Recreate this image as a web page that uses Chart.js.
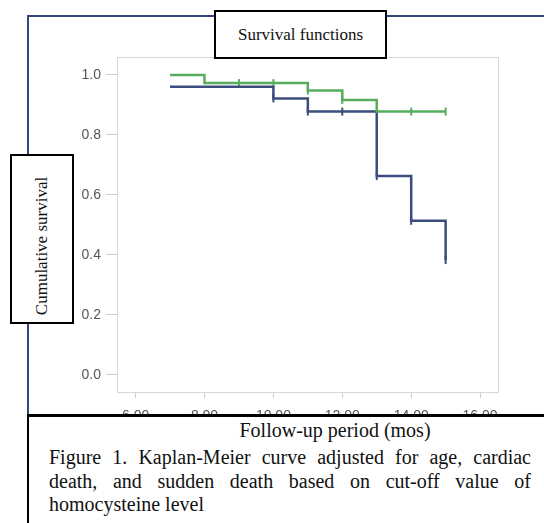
<!DOCTYPE html>
<html>
<head>
<meta charset="utf-8">
<script src="https://cdn.jsdelivr.net/npm/chart.js@4/dist/chart.umd.min.js"></script>
<style>
    html, body { margin: 0; padding: 0; background: #fff; }
    body { width: 544px; height: 523px; position: relative; overflow: hidden; }
    #frame {
        position: absolute; left: 27px; top: 15px; width: 600px; height: 600px;
        border: 2px solid #33457a; box-sizing: border-box;
    }
    #chart-wrap { position: absolute; left: 0; top: 0; width: 544px; height: 523px; }
    .box {
        position: absolute; background: #fff; border: 2px solid #000; box-sizing: border-box;
        font-family: "Liberation Serif", "DejaVu Serif", serif; color: #111;
    }
    #title-box { left: 214px; top: 10px; width: 173px; height: 49px; font-size: 17px;
        display: flex; align-items: center; justify-content: center; }
    #ylabel-box { left: 10px; top: 154px; width: 64px; height: 170px; }
    #ylabel-box span {
        position: absolute; left: 50%; top: 54%; white-space: nowrap; font-size: 17px;
        transform: translate(-50%, -50%) rotate(-90deg);
    }
    #caption-box {
        left: 27px; top: 414px; width: 600px; height: 200px;
        border: none; border-top: 3px solid #000; border-left: 2px solid #000;
    }
    #caption-axis { position: absolute; left: 0; top: 2px; width: 612px; text-align: center; font-size: 20px; }
    #caption-text {
        position: absolute; left: 20px; top: 29px; width: 482px; font-size: 20px;
        line-height: 23.5px;
    }
    #caption-text div { text-align: justify; text-align-last: justify; white-space: nowrap; }
    #caption-text div:last-child { text-align-last: left; }
</style>
</head>
<body>
<div id="frame"></div>
<div id="chart-wrap"><canvas id="km" width="544" height="523"></canvas></div>
<div id="title-box" class="box">Survival functions</div>
<div id="ylabel-box" class="box"><span>Cumulative survival</span></div>
<div id="caption-box" class="box">
    <div id="caption-axis">Follow-up period (mos)</div>
    <div id="caption-text">
        <div>Figure 1. Kaplan-Meier curve adjusted for age, cardiac</div>
        <div>death, and sudden death based on cut-off value of</div>
        <div>homocysteine level</div>
    </div>
</div>
<script>
    // step points (time in months, cumulative survival)
    const greenTimes = [7, 8, 11, 12, 13, 15];
    const greenSurv = [1.0, 0.973, 0.948, 0.917, 0.878, 0.878];
    const blueTimes = [7, 10, 11, 13, 14, 15];
    const blueSurv = [0.961, 0.922, 0.878, 0.663, 0.514, 0.383];

    // censored observations
    const greenCensorTimes = [9, 10, 11, 12, 14, 15];
    const greenCensorSurv = [0.973, 0.973, 0.948, 0.917, 0.878, 0.878];
    const blueCensorTimes = [10, 11, 12, 13, 14, 15];
    const blueCensorSurv = [0.922, 0.878, 0.878, 0.663, 0.514, 0.383];

    const xTickValues = [6, 8, 10, 12, 14, 16];
    const yTickValues = [0, 0.2, 0.4, 0.6, 0.8, 1.0];

    const GREEN = '#56ad5c';
    const NAVY = '#3b4d7d';

    function toPoints(xs, ys) {
        return xs.map((x, i) => ({ x: x, y: ys[i] }));
    }

    // light grey box round the plot area
    const plotBorder = {
        id: 'plotBorder',
        beforeDatasetsDraw(chart) {
            const a = chart.chartArea;
            const ctx = chart.ctx;
            ctx.save();
            ctx.strokeStyle = '#d3d8dc';
            ctx.lineWidth = 1;
            ctx.strokeRect(a.left + 0.5, a.top + 0.5, a.right - a.left, a.bottom - a.top);
            ctx.restore();
        }
    };

    new Chart(document.getElementById('km'), {
        type: 'line',
        data: {
            datasets: [
                {
                    data: toPoints(greenTimes, greenSurv),
                    borderColor: GREEN, borderWidth: 2.5, stepped: 'before',
                    pointRadius: 0, fill: false
                },
                {
                    data: toPoints(blueTimes, blueSurv),
                    borderColor: NAVY, borderWidth: 2.5, stepped: 'before',
                    pointRadius: 0, fill: false
                },
                {
                    data: toPoints(greenCensorTimes, greenCensorSurv),
                    showLine: false, pointStyle: 'line', rotation: 90,
                    pointRadius: 4, borderColor: GREEN, borderWidth: 2
                },
                {
                    data: toPoints(blueCensorTimes, blueCensorSurv),
                    showLine: false, pointStyle: 'line', rotation: 90,
                    pointRadius: 4, borderColor: NAVY, borderWidth: 2
                }
            ]
        },
        options: {
            responsive: false,
            animation: false,
            events: [],
            layout: { padding: { left: 0, top: 57, right: 46, bottom: 91 } },
            plugins: { legend: { display: false }, tooltip: { enabled: false } },
            scales: {
                x: {
                    type: 'linear',
                    min: 5.46, max: 16.52,
                    afterBuildTicks: axis => { axis.ticks = xTickValues.map(v => ({ value: v })); },
                    afterFit: axis => { axis.height = 40; },
                    border: { display: false },
                    grid: { drawOnChartArea: false, drawTicks: true, tickLength: 6, color: '#c9ced3' },
                    ticks: {
                        padding: 10, color: '#555',
                        font: { family: 'Liberation Sans, Arial, sans-serif', size: 14 },
                        callback: v => v.toFixed(2)
                    }
                },
                y: {
                    min: -0.057, max: 1.06,
                    afterBuildTicks: axis => { axis.ticks = yTickValues.map(v => ({ value: v })); },
                    afterFit: axis => { axis.width = 117; },
                    border: { display: false },
                    grid: { drawOnChartArea: false, drawTicks: true, tickLength: 11, color: '#c9ced3' },
                    ticks: {
                        padding: 5, color: '#555',
                        font: { family: 'Liberation Sans, Arial, sans-serif', size: 14 },
                        callback: v => v.toFixed(1)
                    }
                }
            }
        },
        plugins: [plotBorder]
    });
</script>
</body>
</html>
